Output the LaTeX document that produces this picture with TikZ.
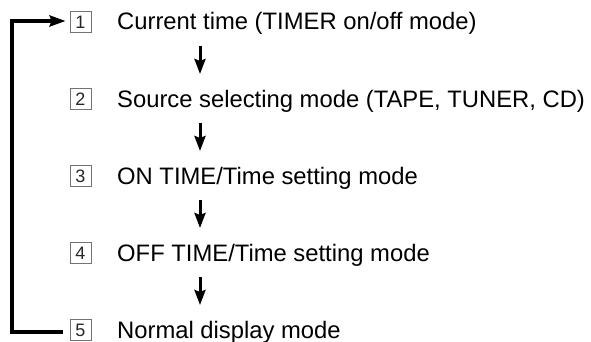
\documentclass[tikz,border=0pt]{standalone}
\usepackage{fontspec}
\setmainfont{Liberation Sans}
\usetikzlibrary{arrows.meta}
\begin{document}
\begin{tikzpicture}[x=1pt,y=1pt,
  numbox/.style={draw=black!55,line width=0.8pt,minimum width=21pt,minimum height=21pt,inner sep=0pt,font=\fontsize{18}{18}\selectfont,text=black!85},
  label/.style={anchor=base west,inner sep=0pt,font=\fontsize{23.8}{24}\selectfont},
  downarr/.style={line width=3pt,-{Stealth[length=15pt,width=11pt,inset=2pt]}},
  looparr/.style={line width=3.6pt,-{Stealth[length=16pt,width=11pt,inset=2pt]}}]
\useasboundingbox (0,0) rectangle (591,-342);
\foreach \i/\y in {1/22,2/99,3/176,4/253,5/330}{
  \node[numbox] (b\i) at (80.5,-\y) {\i};
}
\node[label] (t1) at (117,-30) {Current time (TIMER on/off mode)};
\node[label] (t2) at (117,-107) {Source selecting mode (TAPE, TUNER, CD)};
\node[label] (t3) at (117,-184) {ON TIME/Time setting mode};
\node[label] (t4) at (117,-261) {OFF TIME/Time setting mode};
\node[label] (t5) at (117,-338) {Normal display mode};
\foreach \i/\y in {1/22,2/99,3/176,4/253}{
  \coordinate (s\i) at (200,-\y-24);
  \coordinate (e\i) at (200,-\y-52);
  \draw[downarr] (s\i) -- (e\i);
}
\coordinate (c5) at (12,-332);
\coordinate (c1) at (12,-21);
\draw[looparr,line join=miter] ([xshift=-7pt,yshift=-2pt]b5.west) -- (c5) -- (c1) -- ([xshift=-4pt,yshift=1pt]b1.west);
\end{tikzpicture}
\end{document}
